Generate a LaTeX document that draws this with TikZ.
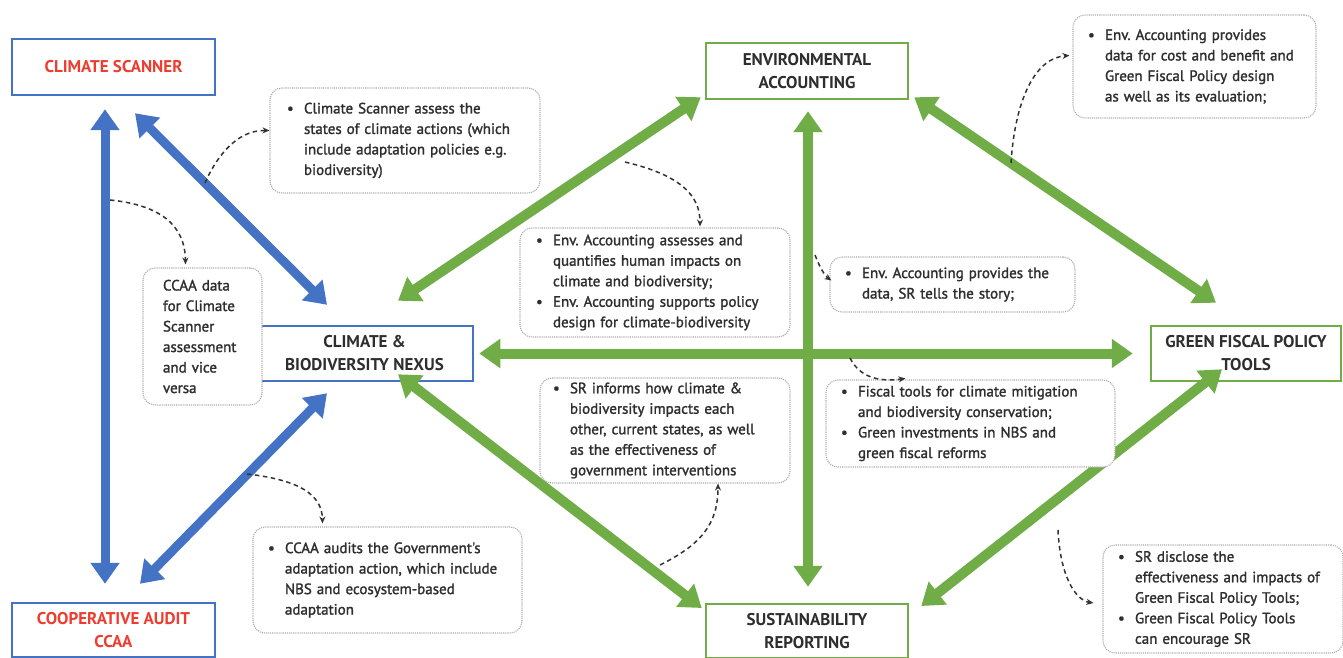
\documentclass[tikz,border=0pt]{standalone}
\usepackage{fontspec}
\setmainfont{PT Sans}
\newfontfamily\notefont{PT Sans}[FakeBold=1.5]
\usetikzlibrary{arrows.meta,calc}
\definecolor{cblue}{HTML}{4472C4}
\definecolor{cgreen}{HTML}{70AD47}
\definecolor{cred}{HTML}{EE3D2F}
\definecolor{ctext}{HTML}{2E2E2E}
\frenchspacing
% bullet item start and continuation indent
\newcommand{\bp}{\makebox[17pt][l]{\textbullet}}
\newcommand{\hg}{\hspace*{17pt}}
\begin{document}
\begin{tikzpicture}[x=1pt,y=-1pt,
  mainbox/.style={draw, line width=2.5pt, fill=white, align=center,
    font=\bfseries\fontsize{17}{23}\selectfont, inner sep=2pt},
  bluebox/.style={mainbox, draw=cblue},
  greenbox/.style={mainbox, draw=cgreen, text=ctext},
  note/.style={draw=gray!65, densely dotted, line width=1.1pt, rounded corners=12pt,
    fill=white, align=left, font=\notefont\fontsize{15}{20.5}\selectfont, text=ctext, inner ysep=0pt},
  bigarrow/.style={{Triangle[width=28pt,length=21pt]}-{Triangle[width=28pt,length=21pt]}},
  blink/.style={bigarrow, draw=cblue, line width=9pt},
  glink/.style={bigarrow, draw=cgreen, line width=10pt},
  hint/.style={line width=1.5pt, dash pattern=on 4.5pt off 3.5pt, draw=black!80,
    -{Stealth[length=7pt,width=6pt]}}]
\fill[white] (0,0) rectangle (1343,658);
\useasboundingbox (0,0) rectangle (1343,658);

% main concept boxes
\node[bluebox, text=cred, minimum width=203pt, minimum height=56pt] (cs) at (113.5,67) {CLIMATE SCANNER};
\node[bluebox, text=cred, minimum width=203pt, minimum height=54pt] (ccaa) at (113.5,630) {COOPERATIVE AUDIT\\CCAA};
\node[bluebox, text=ctext, minimum width=217pt, minimum height=55pt] (nexus) at (364.5,353.5) {CLIMATE \&\\BIODIVERSITY NEXUS};
\node[greenbox, minimum width=202pt, minimum height=56pt] (ea) at (807,71) {ENVIRONMENTAL\\ACCOUNTING};
\node[greenbox, minimum width=190pt, minimum height=55pt] (gfp) at (1246,353.5) {GREEN FISCAL POLICY\\TOOLS};
\node[greenbox, minimum width=202pt, minimum height=54pt] (sr) at (807,631) {SUSTAINABILITY\\REPORTING};

% blue links
\draw[blink] ($(cs.south)+(-8.5,13)$) -- ($(ccaa.north)+(-8.5,-18)$);
\draw[blink] ($(cs.south)+(21.5,17)$) -- ($(nexus.north)+(-37.5,-20)$);
\draw[blink] ($(ccaa.north)+(26.5,-18)$) -- ($(nexus.south)+(-37.5,11)$);

% green links
\draw[glink] ($(ea.south west)+(-4,-3)$) -- ($(nexus.north)+(33.5,-24)$);
\draw[glink] ($(ea.south east)+(5,-3)$) -- ($(gfp.north)+(-30,-22)$);
\draw[glink] ($(nexus.east)+(5,0)$) -- ($(gfp.west)+(-17,0)$);
\draw[glink] ($(ea.south)+(1,11)$) -- ($(sr.north)+(1,-16)$);
\draw[glink] ($(nexus.south)+(33.5,-8)$) -- ($(sr.west)+(-3,-23)$);
\draw[glink] ($(gfp.south)+(-24,-13)$) -- ($(sr.east)+(12,-25)$);

% explanatory notes
\node[note, minimum width=270pt, minimum height=105pt, text width=236pt, inner xsep=17pt] (c1) at (405,140.5)
  {\bp Climate Scanner assess the\\ \hg states of climate actions (which\\ \hg include adaptation policies e.g.\\ \hg biodiversity)};
\node[note, minimum width=119pt, minimum height=137pt, text width=79pt, inner xsep=20pt] (c2) at (202.5,336.5)
  {CCAA data\\for Climate\\Scanner\\assessment\\and vice\\versa};
\node[note, minimum width=270pt, minimum height=109pt, text width=238pt, inner xsep=16pt] (c3) at (655,282.5)
  {\bp Env. Accounting assesses and\\ \hg quantifies human impacts on\\ \hg climate and biodiversity;\\ \bp Env. Accounting supports policy\\ \hg design for climate-biodiversity};
\node[note, minimum width=245pt, minimum height=55pt, text width=215pt, inner xsep=15pt] (c4) at (952.5,284.5)
  {\bp Env. Accounting provides the\\ \hg data, SR tells the story;};
\node[note, minimum width=243pt, minimum height=103pt, text width=213pt, inner xsep=15pt] (c5) at (1194.5,66.5)
  {\bp Env. Accounting provides\\ \hg data for cost and benefit and\\ \hg Green Fiscal Policy design\\ \hg as well as its evaluation;};
\node[note, minimum width=250pt, minimum height=105pt, text width=224pt, inner xsep=13pt] (c6) at (665,430.5)
  {\bp SR informs how climate \&\\ \hg biodiversity impacts each\\ \hg other, current states, as well\\ \hg as the effectiveness of\\ \hg government interventions};
\node[note, minimum width=289pt, minimum height=87pt, text width=259pt, inner xsep=15pt] (c7) at (970.5,423.5)
  {\bp Fiscal tools for climate mitigation\\ \hg and biodiversity conservation;\\ \bp Green investments in NBS and\\ \hg green fiscal reforms};
\node[note, minimum width=269pt, minimum height=106pt, text width=239pt, inner xsep=15pt] (c8) at (387.5,580)
  {\bp CCAA audits the Government's\\ \hg adaptation action, which include\\ \hg NBS and ecosystem-based\\ \hg adaptation};
\node[note, minimum width=240pt, minimum height=108pt, text width=210pt, inner xsep=15pt] (c9) at (1223,599)
  {\bp SR disclose the\\ \hg effectiveness and impacts of\\ \hg Green Fiscal Policy Tools;\\ \bp Green Fiscal Policy Tools\\ \hg can encourage SR};

% anchor points on the links where the note pointers start
\coordinate (p1) at (205,183);
\coordinate (p2) at (110,200);
\coordinate (p3) at (625,162);
\coordinate (p4) at (815,255);
\coordinate (p5) at (1011,163);
\coordinate (p6) at (660,565);
\coordinate (p7) at (850,358);
\coordinate (p8) at (247,474);
\coordinate (p9) at (1058,530);

% dashed pointers to the notes
\draw[hint] (p1) .. controls (215,160) and (235,130) .. ($(c1.west)+(0,-10)$);
\draw[hint] (p2) .. controls (160,205) and (185,225) .. ($(c2.north)+(-17,-3)$);
\draw[hint] (p3) .. controls (680,175) and (700,195) .. ($(c3.north)+(45,-1)$);
\draw[hint] (p4) .. controls (820,268) and (825,276) .. ($(c4.west)+(2,-4)$);
\draw[hint] (p5) .. controls (1015,100) and (1035,58) .. ($(c5.west)+(-3,-11)$);
\draw[hint] (p6) .. controls (700,545) and (718,525) .. ($(c6.south)+(53,0)$);
\draw[hint] (p7) .. controls (860,378) and (880,382) .. ($(c7.north)+(-65,-1)$);
\draw[hint] (p8) .. controls (300,480) and (322,495) .. ($(c8.north)+(-65,-3)$);
\draw[hint] (p9) .. controls (1060,575) and (1075,600) .. ($(c9.west)+(-9,4)$);
\end{tikzpicture}
\end{document}
